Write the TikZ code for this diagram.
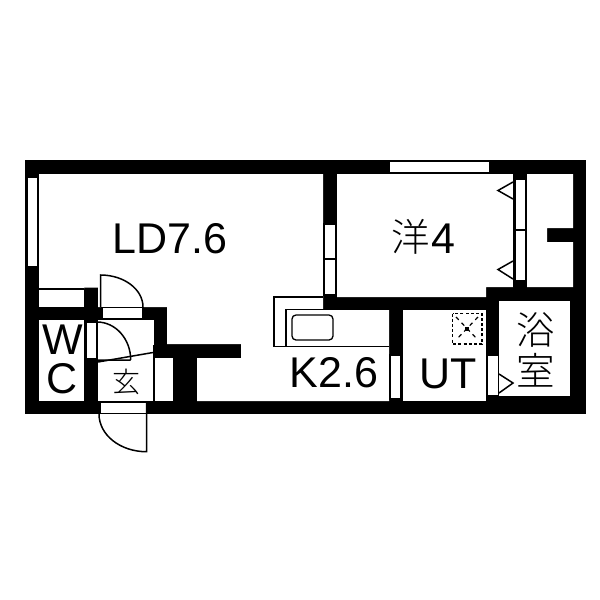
\documentclass[tikz,border=0pt]{standalone}
\usepackage{fontspec}
\setmainfont[FakeBold=-0.2,AutoFakeBold=false]{Liberation Sans}
\newfontfamily\cjk[UprightFont={* Light},BoldFont={* Light}]{Noto Sans CJK JP}
\tikzset{
  wall/.style={fill=black,draw=none},
  room/.style={fill=white,draw=none},
  panel/.style={fill=white,draw=black,line width=1.1pt},
  thinline/.style={black,line width=1.1pt},
  leaf/.style={draw=black,line width=1.5pt},
  label/.style={inner sep=0pt,anchor=base,font=\fontsize{43}{43}\selectfont},
  jlabel/.style={inner sep=0pt,anchor=base,font=\cjk\fontsize{38.5}{38.5}\selectfont},
}
\begin{document}
\begin{tikzpicture}[x=1pt,y=-1pt]
\useasboundingbox (0,0) rectangle (600,600);
\fill[white] (0,0) rectangle (600,600);
% outer mass
\path[wall] (25,160) rectangle (586,414);
% living + kitchen floor
\path[room] (39,174) -- (323,174) -- (323,310) -- (389,310) -- (389,401) -- (197,401) -- (197,358) -- (241,358) -- (241,344) -- (167,344) -- (167,307) -- (98,307) -- (98,287.5) -- (84,287.5) -- (84,289) -- (39,289) -- cycle;
\path[room] (39,289) rectangle (84,307);
\draw[thinline] (39,289) -- (84,289);
% western room
\path[room] (337,174) -- (513,174) -- (513,287) -- (486,287) -- (486,297) -- (337,297) -- cycle;
% closet
\path[room] (527,174) -- (573,174) -- (573,228) -- (547,228) -- (547,242) -- (573,242) -- (573,287) -- (527,287) -- cycle;
% utility, bath
\path[room] (403,310) rectangle (486,401);
\path[room] (499,301) rectangle (570,396);
% WC, entrance
\path[room] (39,320) rectangle (84,401);
\path[room] (98,320) rectangle (153.5,401);
\path[room] (154,358) rectangle (173,401);
\draw[thinline] (154,345) -- (154,401);
% windows and sliding panels
\draw[panel] (389,161.5) rectangle (490,172.5);
\draw[panel] (27,177) rectangle (38,267);
\draw[panel] (324,224) rectangle (335.5,295);
\draw[thinline] (324,259) -- (335.5,259);
\draw[panel] (515,179) rectangle (526,281);
\draw[thinline] (515,230) -- (526,230);
\draw[black,line width=1.5pt] (513.5,174) -- (513.5,287);
\draw[panel] (390,355) rectangle (401,399);
\draw[panel] (487,355) rectangle (498.5,396);
\draw[panel] (102,307.5) rectangle (143,319);
\draw[panel] (86,322) rectangle (97,359);
\draw[panel] (100,402) rectangle (146.5,413.5);
% closet and bath door marks
\draw[leaf,line join=miter] (513,182) -- (498,190.5) -- (513,199);
\draw[leaf,line join=miter] (513,261) -- (498,269.5) -- (513,279);
\draw[leaf,line join=miter] (499,374) -- (513,383) -- (499,393);
% doors
\draw[leaf] (100.5,307) -- (100.5,275) .. controls (124,275) and (143,289.3) .. (143,307);
\draw[leaf] (130.7,360) -- (97,360) -- (97,322) .. controls (115.6,322) and (130.7,339) .. (130.7,360);
\draw[leaf] (99,414) .. controls (99,435) and (120.3,451.7) .. (146.5,451.7) -- (146.5,402);
\draw[leaf] (98,362) -- (153,352.5);
% kitchen counter
\draw[thinline] (323,297) -- (274,297) -- (274,346.5) -- (389,346.5);
\draw[thinline] (286,346.5) -- (286,309.5) -- (389,309.5);
\draw[black,line width=1.3pt,rounded corners=4pt] (292,315) rectangle (333,340);
% ventilation square
\draw[black,line width=1.4pt,dash pattern=on 3pt off 2.2pt] (452.5,313.5) rectangle (482,344);
\draw[black,line width=1.2pt,dash pattern=on 4pt off 4pt] (456,317) -- (478,340);
\draw[black,line width=1.2pt,dash pattern=on 4pt off 4pt] (478,317) -- (456,340);
\fill[black] (465,327) rectangle (469,331);
% labels
\node[label] (ld) at (170,253) {LD7.6};
\node[jlabel] (yo) at (410.5,251) {洋};
\node[label] (four) at (443.5,253) {4};
\node[label] (k) at (334,387) {K2.6};
\node[label] (ut) at (448,388) {UT};
\node[jlabel] (yoku) at (536,344) {浴};
\node[jlabel] (shitsu) at (536,385) {室};
\node[inner sep=0pt,anchor=base,font=\cjk\fontsize{28}{28}\selectfont] (gen) at (126,392) {玄};
\node[label] (w) at (62.5,354) {W};
\node[label] (c) at (62,393) {C};
\end{tikzpicture}
\end{document}
